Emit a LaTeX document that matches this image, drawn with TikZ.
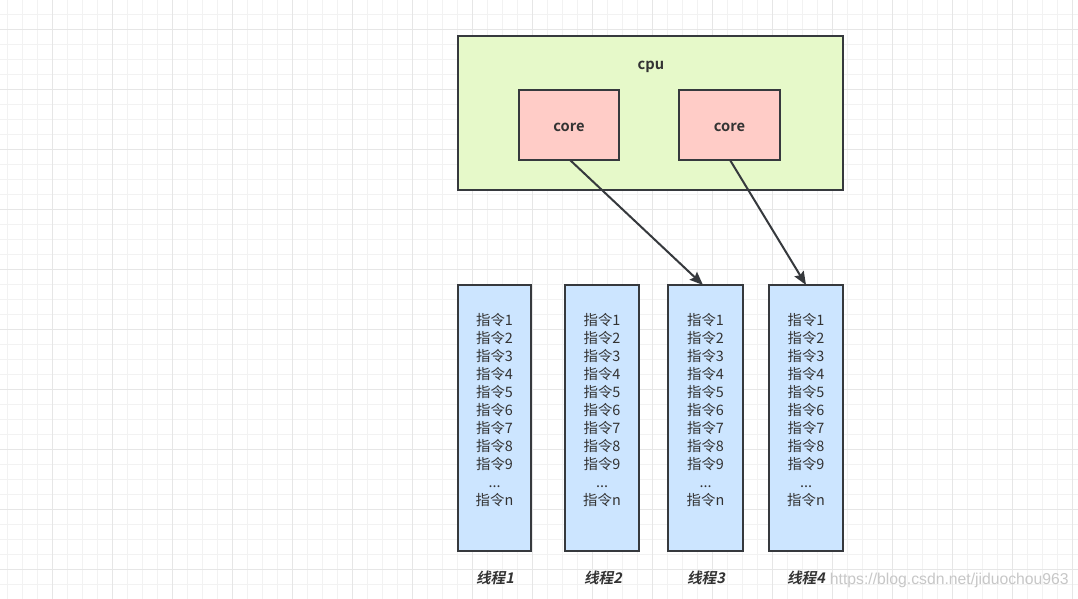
\documentclass[tikz,border=0pt]{standalone}
\usepackage{fontspec}
\setmainfont{Noto Sans CJK SC}[BoldFont={* Bold}]
\newfontfamily\cjkbi{Noto Sans CJK SC}[UprightFont={* Bold},FakeSlant=0.2]
\newfontfamily\wmfont{Liberation Sans}
\usetikzlibrary{arrows.meta}
\definecolor{gridminor}{HTML}{F2F2F2}
\definecolor{gridmajor}{HTML}{E6E6E6}
\definecolor{cpufill}{HTML}{E6F9C9}
\definecolor{corefill}{HTML}{FFCCC7}
\definecolor{thrfill}{HTML}{CCE5FF}
\definecolor{edge}{HTML}{36393D}
\definecolor{txt}{HTML}{333333}
\tikzset{
  box/.style={draw=edge,line width=1.5pt,inner sep=0pt,text=txt},
  cpubox/.style={box,fill=cpufill},
  corebox/.style={box,fill=corefill},
  boldlabel/.style={text=txt,font=\bfseries\fontsize{11}{12}\selectfont,inner sep=0pt},
  thrbox/.style={box,fill=thrfill},
  instr/.style={text=txt,font=\fontsize{10.8}{13.5}\selectfont,align=center,inner sep=0pt},
  thrlabel/.style={text=txt,font=\cjkbi\fontsize{11}{12}\selectfont,inner sep=0pt},
  link/.style={draw=edge,line width=1.5pt,-{Stealth[length=10pt,width=8pt,inset=1.5pt]}},
}
\begin{document}
\begin{tikzpicture}[x=0.75pt,y=-0.75pt]
\useasboundingbox (0,0) rectangle (1078,599);
\fill[white] (0,0) rectangle (1078,599);
% grid
\foreach \i in {0,...,71} {
  \draw[gridminor,line width=0.75pt] ({7.7+15*\i},0) -- ({7.7+15*\i},599);
}
\foreach \j in {0,...,39} {
  \draw[gridminor,line width=0.75pt] (0,{14.3+15*\j}) -- (1078,{14.3+15*\j});
}
\foreach \i in {0,...,17} {
  \draw[gridmajor,line width=0.75pt] ({52.7+60*\i},0) -- ({52.7+60*\i},599);
}
\foreach \j in {0,...,9} {
  \draw[gridmajor,line width=0.75pt] (0,{29.3+60*\j}) -- (1078,{29.3+60*\j});
}
% cpu
\node[cpubox,minimum width=385*0.75pt,minimum height=154*0.75pt] (cpu) at (650.5,113) {};
\node[boldlabel] (cpulabel) at (651,67) {cpu};
\node[corebox,minimum width=100*0.75pt,minimum height=70*0.75pt] (core1) at (569,125) {};
\node[corebox,minimum width=101*0.75pt,minimum height=70*0.75pt] (core2) at (729.5,125) {};
\node[boldlabel] (core1label) at (569,127.5) {core};
\node[boldlabel] (core2label) at (729.5,127.5) {core};
% threads
\foreach \n/\cx/\w in {1/494.5/73,2/602/74,3/705.5/75,4/806/74} {
  \node[thrbox,minimum width=\w*0.75pt,minimum height=266*0.75pt] (t\n) at (\cx,418) {};
  \node[instr] (i\n) at (\cx,410) {指令1\\指令2\\指令3\\指令4\\指令5\\指令6\\指令7\\指令8\\指令9\\...\\指令n};
}
\node[thrlabel] (l1) at (495,578) {线程1};
\node[thrlabel] (l2) at (603,578) {线程2};
\node[thrlabel] (l3) at (706,578) {线程3};
\node[thrlabel] (l4) at (806,578) {线程4};
% connectors
\coordinate (c1s) at (570,160);
\coordinate (t3e) at (703,285);
\coordinate (c2s) at (730,160);
\coordinate (t4e) at (806,285);
\draw[link] (c1s) -- (t3e);
\draw[link] (c2s) -- (t4e);
% watermark
\node[anchor=east,text=black!22,font=\wmfont\fontsize{11.8}{13}\selectfont,inner sep=0pt] (wm) at (1069,580) {https://blog.csdn.net/jiduochou963};
\end{tikzpicture}
\end{document}
